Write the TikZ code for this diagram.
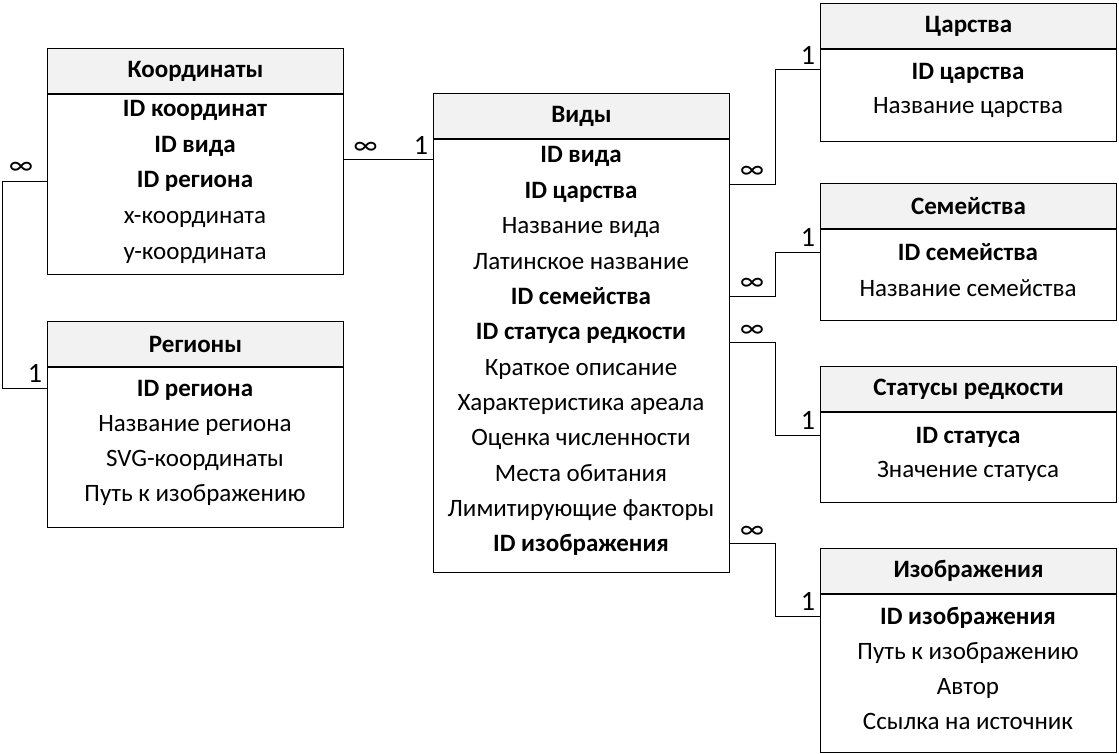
\documentclass[tikz,border=0pt]{standalone}
\usepackage{fontspec}
\setmainfont{Carlito}
\usetikzlibrary{positioning}
\definecolor{headgray}{HTML}{F2F2F2}
\newcommand{\tblfont}{\fontsize{25}{30}\selectfont}
\tikzset{
  tblhead/.style={draw, fill=headgray, minimum width=296, minimum height=45,
    inner sep=0pt, font=\tblfont\bfseries},
  tblbody/.style={draw, minimum width=296, inner sep=0pt},
  tblrow/.style={minimum width=296, inner sep=0pt, text height=21pt,
    text depth=5pt, font=\tblfont},
  mult/.style={inner sep=1pt, font=\fontsize{28}{32}\selectfont},
  link/.style={line width=1pt}
}
\begin{document}
\begin{tikzpicture}[x=1pt,y=-1pt,line width=1pt]
  \useasboundingbox (0,0) rectangle (1119,754);
  % Координаты
  \node[tblhead, anchor=north west] (coordH) at (47,48) {Координаты};
  \node[tblbody, minimum height=180, below=0pt of coordH] (coordB) {};
  \foreach \f/\t [count=\i] in {\bfseries/ID координат, \bfseries/ID вида,
      \bfseries/ID региона, \relax/x-координата, \relax/y-координата}
    \node[tblrow] (coord\i) at (195,{109+35.5*(\i-1)}) {\f\t};
  % Регионы
  \node[tblhead, anchor=north west] (regH) at (47,321) {Регионы};
  \node[tblbody, minimum height=160, below=0pt of regH] (regB) {};
  \foreach \f/\t [count=\i] in {\bfseries/ID региона, \relax/Название региона,
      \relax/SVG-координаты, \relax/Путь к изображению}
    \node[tblrow] (reg\i) at (195,{388+35*(\i-1)}) {\f\t};
  % Виды
  \node[tblhead, anchor=north west] (vidyH) at (433,93) {Виды};
  \node[tblbody, minimum height=433, below=0pt of vidyH] (vidyB) {};
  \foreach \f/\t [count=\i] in {\bfseries/ID вида, \bfseries/ID царства,
      \relax/Название вида, \relax/Латинское название, \bfseries/ID семейства,
      \bfseries/ID статуса редкости, \relax/Краткое описание,
      \relax/Характеристика ареала, \relax/Оценка численности,
      \relax/Места обитания, \relax/Лимитирующие факторы,
      \bfseries/ID изображения}
    \node[tblrow] (vidy\i) at (581,{155+35.36*(\i-1)}) {\f\t};
  % Царства
  \node[tblhead, anchor=north west] (carH) at (820,3) {Царства};
  \node[tblbody, minimum height=92, below=0pt of carH] (carB) {};
  \foreach \f/\t [count=\i] in {\bfseries/ID царства, \relax/Название царства}
    \node[tblrow] (car\i) at (968,{72+34*(\i-1)}) {\f\t};
  % Семейства
  \node[tblhead, anchor=north west] (famH) at (820,183) {Семейства};
  \node[tblbody, minimum height=91, below=0pt of famH] (famB) {};
  \foreach \f/\t [count=\i] in {\bfseries/ID семейства, \relax/Название семейства}
    \node[tblrow] (fam\i) at (968,{252+36*(\i-1)}) {\f\t};
  % Статусы редкости
  \node[tblhead, anchor=north west] (statH) at (820,366) {Статусы редкости};
  \node[tblbody, minimum height=90, below=0pt of statH] (statB) {};
  \foreach \f/\t [count=\i] in {\bfseries/ID статуса, \relax/Значение статуса}
    \node[tblrow] (stat\i) at (968,{435+34*(\i-1)}) {\f\t};
  % Изображения
  \node[tblhead, anchor=north west] (imgH) at (820,548) {Изображения};
  \node[tblbody, minimum height=158, below=0pt of imgH] (imgB) {};
  \foreach \f/\t [count=\i] in {\bfseries/ID изображения, \relax/Путь к изображению,
      \relax/Автор, \relax/Ссылка на источник}
    \node[tblrow] (img\i) at (968,{616+35.3*(\i-1)}) {\f\t};

  % связи
  \draw[link] ([yshift=-5]vidy1.west) -- ([yshift=-5]vidy1.west -| coordB.east)
    node[mult, above right=4pt and 8pt] {∞};
  \node[mult, above left=4pt and 3pt] at ([yshift=-5]vidy1.west) {1};
  \draw[link] ([yshift=-2]coord3.west) -- ++(-44,0) |- (reg1.west);
  \node[mult, above left=4pt and 12pt] at (coord3.west) {∞};
  \node[mult, above left=4pt and 3pt] at (reg1.west) {1};
  \draw[link] ([yshift=6]vidy2.east) -- ++(46,0) |- ([yshift=2]car1.west);
  \node[mult, above right=4pt and 9pt] at ([yshift=6]vidy2.east) {∞};
  \node[mult, above left=4pt and 3pt] at ([yshift=2]car1.west) {1};
  \draw[link] (vidy5.east) -- ++(46,0) |- (fam1.west);
  \node[mult, above right=4pt and 9pt] at (vidy5.east) {∞};
  \node[mult, above left=4pt and 3pt] at (fam1.west) {1};
  \draw[link] ([yshift=-11]vidy6.east) -- ++(46,0) |- (stat1.west);
  \node[mult, above right=4pt and 9pt] at ([yshift=-11]vidy6.east) {∞};
  \node[mult, above left=4pt and 3pt] at (stat1.west) {1};
  \draw[link] (vidy12.east) -- ++(46,0) |- (img1.west);
  \node[mult, above right=4pt and 9pt] at (vidy12.east) {∞};
  \node[mult, above left=4pt and 3pt] at (img1.west) {1};
\end{tikzpicture}
\end{document}
